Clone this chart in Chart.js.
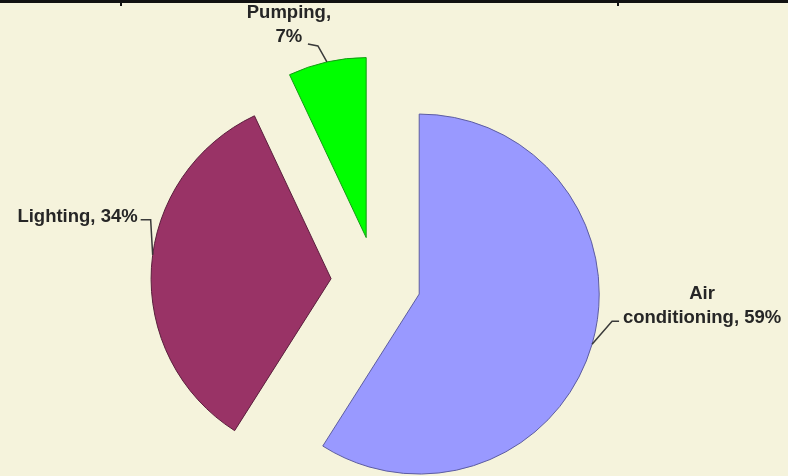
<!DOCTYPE html>
<html>
<head>
<meta charset="utf-8">
<script src="https://cdn.jsdelivr.net/npm/chart.js@4"></script>
<style>
  html, body { margin: 0; padding: 0; background: #f5f3dc; overflow: hidden; }
  #wrap { position: relative; width: 788px; height: 476px; }
  .rule { position: absolute; left: 0; top: 0; width: 788px; height: 3px; background: #111; }
  .tick { position: absolute; top: 0; width: 2px; height: 6px; background: #111; }
</style>
</head>
<body>
<div id="wrap">
  <canvas id="myChart"></canvas>
  <div class="rule"></div>
  <div class="tick" style="left:120px"></div>
  <div class="tick" style="left:617px"></div>
</div>
<script>
// data
const categories = ['Air conditioning', 'Lighting', 'Pumping'];
const shares = [59, 34, 7];
// label text lines, per slice
const labelLines = [['Air', 'conditioning, 59%'], ['Lighting, 34%'], ['Pumping,', '7%']];

const sliceColors = ['#9999ff', '#993366', '#00ff00'];
const sliceBorders = ['#5c5ca0', '#5a1e3c', '#149a14'];

// leader line shape: where it touches the slice (deg from mid), elbow, tail, text offset
const leaders = [
  { shift: 0, elbow: [20, -23], tail: [7, 0], text: [83, -27], align: 'center' },
  { shift: 4, elbow: [-2, -35], tail: [-10, 0], text: [-3, -3], align: 'right' },
  { shift: 0, elbow: [-9, -16], tail: [-10, -2], text: [-19, -31], align: 'center' }
];

const RADIUS = 180;
const EXPLODE = 180; // chart.js moves a slice by offset/4

// v4 grows an exploded slice by (offset/4)*fix and trims its angle a bit,
// undo both so all slices keep one radius and their true share
const evenRadius = {
  id: 'evenRadius',
  afterDatasetUpdate(chart, args) {
    args.meta.data.forEach(arc => {
      const t = (arc.options.offset || 0) / 4;
      const fix = 1 - Math.sin(Math.min(Math.PI, arc.circumference));
      const ro = t * fix;
      const drawnR = arc.outerRadius;
      arc.outerRadius = drawnR - ro;
      const d = ro / (2 * Math.PI * drawnR);
      arc.startAngle -= d;
      arc.endAngle += d;
    });
  }
};

const sliceLabels = {
  id: 'sliceLabels',
  afterDatasetsDraw(chart) {
    const ctx = chart.ctx;
    const meta = chart.getDatasetMeta(0);
    ctx.save();
    ctx.strokeStyle = '#3a3a3a';
    ctx.lineWidth = 1.5;
    ctx.fillStyle = '#262626';
    ctx.font = 'bold 18.5px "Liberation Sans", Arial, sans-serif';
    ctx.textBaseline = 'middle';
    meta.data.forEach((arc, i) => {
      const L = leaders[i];
      const mid = (arc.startAngle + arc.endAngle) / 2;
      const t = (arc.options.offset || 0) / 4;
      const cx = arc.x + Math.cos(mid) * t;
      const cy = arc.y + Math.sin(mid) * t;
      const a = mid + L.shift * Math.PI / 180;
      const ex = cx + Math.cos(a) * RADIUS;
      const ey = cy + Math.sin(a) * RADIUS;
      const bx = ex + L.elbow[0], by = ey + L.elbow[1];
      const tx = bx + L.tail[0], ty = by + L.tail[1];
      ctx.beginPath();
      ctx.moveTo(ex, ey);
      ctx.lineTo(bx, by);
      ctx.lineTo(tx, ty);
      ctx.stroke();
      ctx.textAlign = L.align;
      labelLines[i].forEach((line, k) => {
        ctx.fillText(line, tx + L.text[0], ty + L.text[1] + k * 24);
      });
    });
    ctx.restore();
  }
};

const ctx = document.getElementById('myChart');

new Chart(ctx, {
  type: 'pie',
  data: {
    labels: categories,
    datasets: [{
      data: shares,
      backgroundColor: sliceColors,
      borderColor: sliceBorders,
      borderWidth: 1,
      offset: EXPLODE,
      radius: RADIUS
    }]
  },
  options: {
    responsive: true,
    maintainAspectRatio: false,
    animation: false,
    layout: { padding: { left: 0, right: 36, top: 87, bottom: 0 } },
    plugins: {
      legend: { display: false },
      tooltip: { enabled: false }
    }
  },
  plugins: [evenRadius, sliceLabels]
});
</script>
</body>
</html>
